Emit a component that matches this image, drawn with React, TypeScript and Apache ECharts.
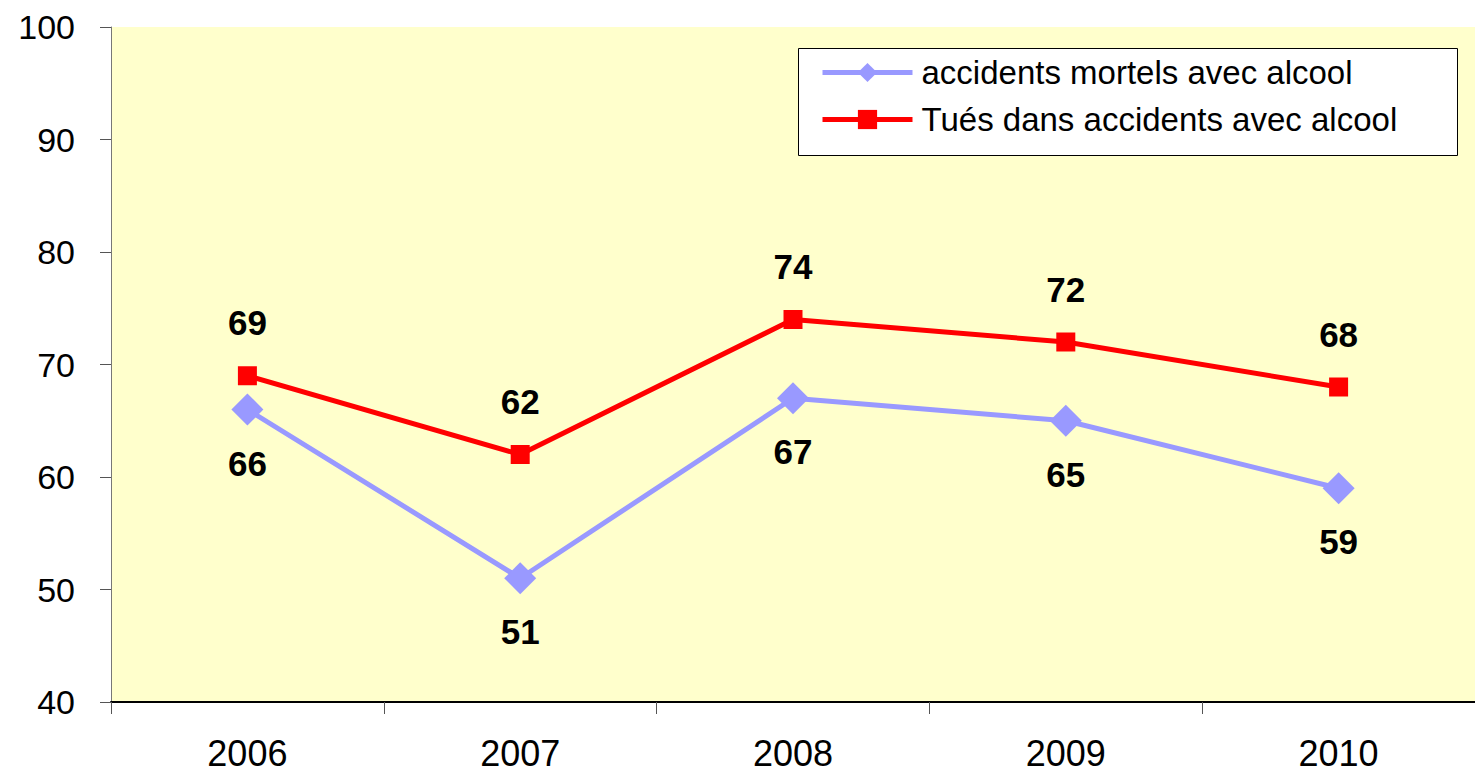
import React, { useEffect, useRef } from "react";
import * as echarts from "echarts";

const years = ["2006", "2007", "2008", "2009", "2010"];
const accidentsMortels = [66, 51, 67, 65, 59];
const tuesAccidents = [69, 62, 74, 72, 68];
const seriesNames = ["accidents mortels avec alcool", "Tués dans accidents avec alcool"];

const FONT = 'Arial, "Liberation Sans", sans-serif';

export default function App() {
  const ref = useRef<HTMLDivElement>(null);
  useEffect(() => {
    if (!ref.current) return;
    const chart = echarts.init(ref.current, undefined, { renderer: "svg" });
    chart.setOption({
      animation: false,
      backgroundColor: "#ffffff",
      textStyle: { fontFamily: FONT },
      grid: {
        left: 111,
        top: 27,
        right: 0,
        bottom: 72,
        show: true,
        backgroundColor: "#FFFFCC",
        borderWidth: 0,
      },
      graphic: [
        {
          type: "rect",
          left: 798,
          top: 48,
          shape: { width: 659, height: 107 },
          style: { fill: "#ffffff", stroke: "#000000", lineWidth: 1 },
          z: 10,
        },
      ],
      legend: {
        orient: "vertical",
        left: 820,
        top: 56,
        padding: 0,
        itemWidth: 90,
        itemHeight: 24,
        itemGap: 14,
        z: 20,
        lineStyle: { width: 5 },
        textStyle: { fontSize: 33, color: "#000", fontFamily: FONT, padding: [0, 0, 0, 4] },
        data: seriesNames,
      },
      xAxis: {
        type: "category",
        data: years,
        boundaryGap: true,
        axisLine: { lineStyle: { color: "#000", width: 2 } },
        axisTick: { show: true, length: 12, lineStyle: { color: "#555", width: 1 } },
        axisLabel: { fontSize: 36, color: "#000", margin: 33, fontFamily: FONT },
        splitLine: { show: false },
      },
      yAxis: {
        type: "value",
        min: 40,
        max: 100,
        interval: 10,
        axisLine: { show: true, lineStyle: { color: "#777", width: 1 } },
        axisTick: { show: true, length: 11, lineStyle: { color: "#555", width: 1 } },
        axisLabel: { fontSize: 34, color: "#000", margin: 36, fontFamily: FONT },
        splitLine: { show: false },
      },
      series: [
        {
          name: seriesNames[0],
          type: "line",
          data: accidentsMortels,
          symbol: "diamond",
          symbolSize: 32,
          lineStyle: { color: "#9999FF", width: 5 },
          itemStyle: { color: "#9999FF" },
          label: {
            show: true,
            position: "bottom",
            distance: 20,
            fontSize: 35,
            fontWeight: "bold",
            color: "#000",
            fontFamily: FONT,
          },
          z: 2,
        },
        {
          name: seriesNames[1],
          type: "line",
          data: tuesAccidents,
          symbol: "rect",
          symbolSize: 19,
          lineStyle: { color: "#FF0000", width: 5 },
          itemStyle: { color: "#FF0000" },
          label: {
            show: true,
            position: "top",
            distance: 26,
            fontSize: 35,
            fontWeight: "bold",
            color: "#000",
            fontFamily: FONT,
          },
          z: 3,
        },
      ],
    });
    return () => chart.dispose();
  }, []);
  return (
    <div
      ref={ref}
      style={{ position: "fixed", left: 0, top: 0, width: 1475, height: 774 }}
    />
  );
}
